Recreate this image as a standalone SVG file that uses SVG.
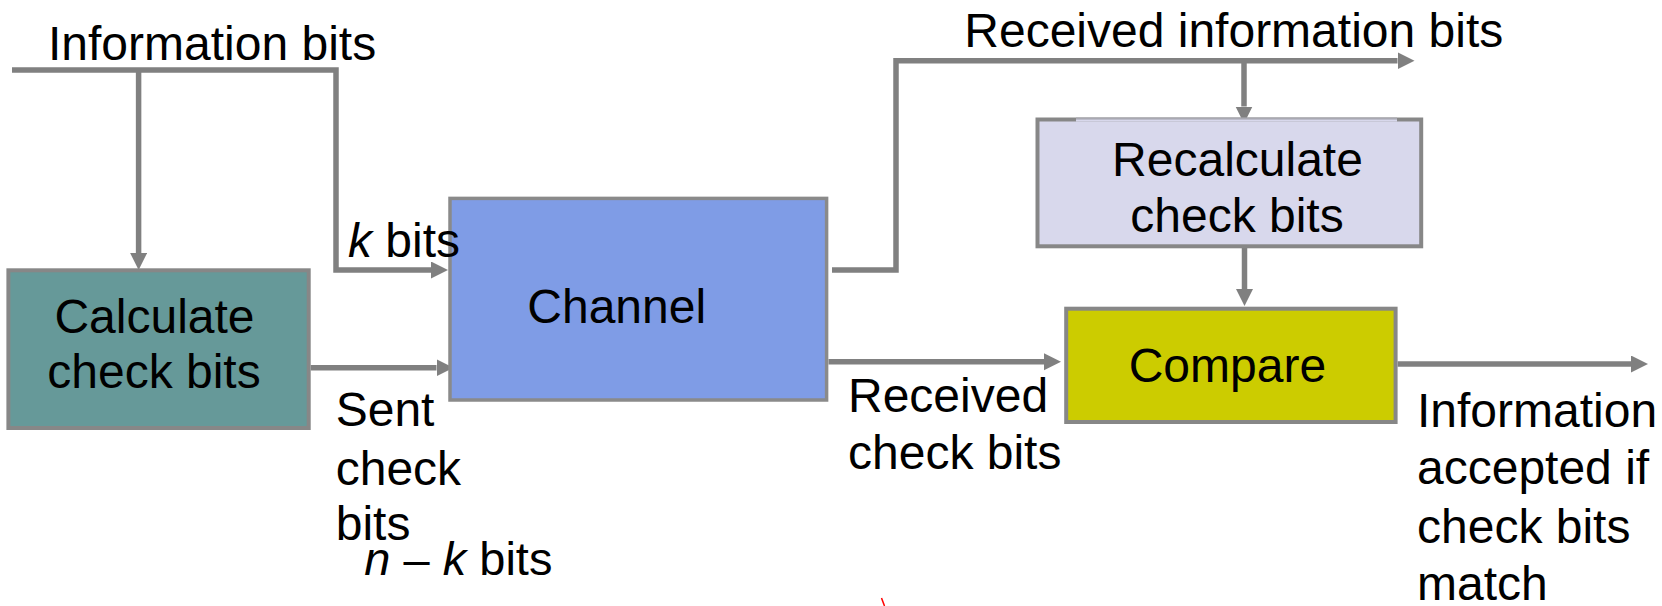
<svg xmlns="http://www.w3.org/2000/svg" width="1662" height="606" viewBox="0 0 1662 606">
  <style>
    .lbl { font-family: "Liberation Sans", Arial, sans-serif; font-size: 48px; fill: #000; }
    .it { font-style: italic; }
    .mid { text-anchor: middle; }
    .box { stroke: #878787; stroke-width: 4; }
    .wire { fill: none; stroke: #808080; stroke-width: 5.5; stroke-linejoin: miter; stroke-linecap: butt; }
  </style>
  <defs>
    <marker id="arrow" markerUnits="userSpaceOnUse" markerWidth="18" markerHeight="18" refX="0" refY="8.5" orient="auto">
      <path d="M0,0 L17,8.5 L0,17 Z" fill="#808080"/>
    </marker>
  </defs>

  <rect width="1662" height="606" fill="#ffffff"/>

  <!-- connectors -->
  <g id="connectors">
    <path class="wire" d="M12,70 H336 V270 H431" marker-end="url(#arrow)"/>
    <path class="wire" d="M138.6,70 V253" marker-end="url(#arrow)"/>
    <path class="wire" d="M310.7,367.7 H436.5" marker-end="url(#arrow)"/>
    <path class="wire" d="M832,270 H896 V60.8 H1397.5" marker-end="url(#arrow)"/>
    <path class="wire" d="M1244,63 V106.5" marker-end="url(#arrow)"/>
    <path class="wire" d="M1244.5,248 V289" marker-end="url(#arrow)"/>
    <path class="wire" d="M828.5,361.7 H1044" marker-end="url(#arrow)"/>
    <path class="wire" d="M1397.6,364 H1631" marker-end="url(#arrow)"/>
  </g>

  <!-- sender side -->
  <g id="calculate">
    <rect class="box" x="8.4" y="270.3" width="300.3" height="157.7" fill="#669999"/>
    <text class="lbl mid" x="154.5" y="333.3">Calculate</text>
    <text class="lbl mid" x="154" y="388.3">check bits</text>
  </g>

  <g id="channel">
    <rect x="450" y="198.4" width="376.6" height="201.6" fill="#7f9ce6" stroke="#8a8a8a" stroke-width="3.5"/>
    <text class="lbl" x="527.3" y="323.3">Channel</text>
  </g>

  <!-- receiver side -->
  <g id="recalculate">
    <rect class="box" x="1037.5" y="119.5" width="383.7" height="126.8" fill="#d8d8ec"/>
    <rect x="1076" y="117.5" width="321" height="1.9" fill="#a9a9b2"/>
    <rect x="1076" y="119.4" width="321" height="2.2" fill="#d8d8ec"/>
    <text class="lbl mid" x="1237.5" y="175.7">Recalculate</text>
    <text class="lbl mid" x="1237" y="231.7">check bits</text>
  </g>

  <g id="compare">
    <rect class="box" x="1066.2" y="308.7" width="329.4" height="113.3" fill="#cccc00"/>
    <text class="lbl" x="1128.7" y="381.7">Compare</text>
  </g>

  <!-- free labels, drawn on top of the boxes -->
  <g id="labels">
    <text class="lbl" x="48" y="59.5">Information bits</text>
    <text class="lbl" x="348" y="257"><tspan class="it">k</tspan> bits</text>
    <text class="lbl" x="335.7" y="426">Sent</text>
    <text class="lbl" x="335.7" y="485">check</text>
    <text class="lbl" x="335.7" y="540">bits</text>
    <text class="lbl" x="364.3" y="575" style="font-size:47px"><tspan class="it">n</tspan> – <tspan class="it">k</tspan> bits</text>
    <text class="lbl" x="964.3" y="46.7">Received information bits</text>
    <text class="lbl" x="848" y="411.7">Received</text>
    <text class="lbl" x="848" y="469.3">check bits</text>
    <text class="lbl" x="1417" y="426.7">Information</text>
    <text class="lbl" x="1417" y="484">accepted if</text>
    <text class="lbl" x="1417" y="543.3">check bits</text>
    <text class="lbl" x="1417" y="600">match</text>
  </g>

  <!-- stray pen stroke near the bottom edge -->
  <line x1="881.5" y1="598" x2="884.5" y2="606" stroke="#ff0000" stroke-width="1.5"/>
</svg>
